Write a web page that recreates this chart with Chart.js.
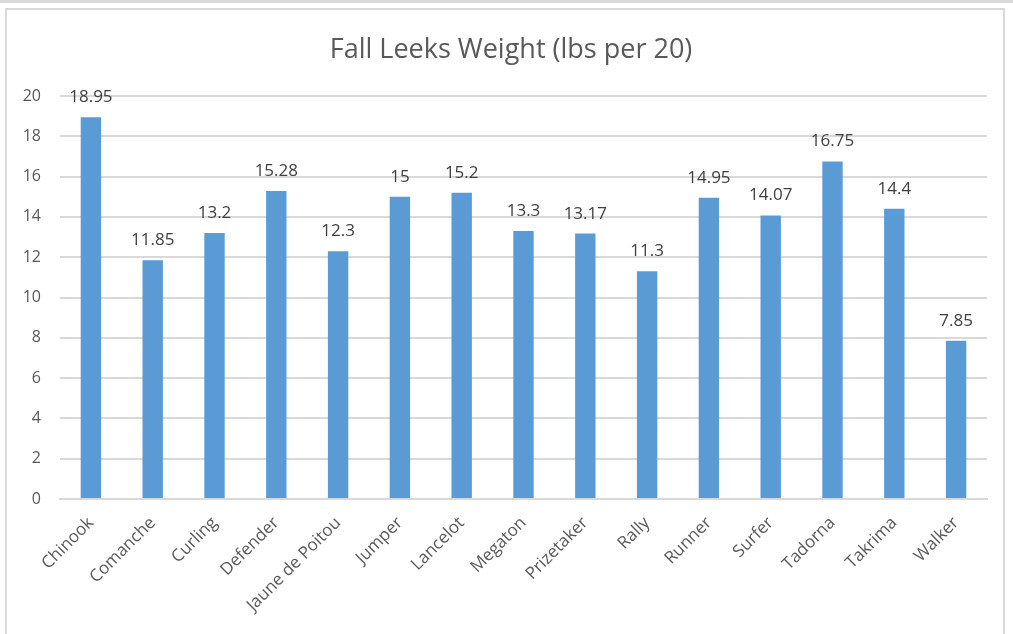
<!DOCTYPE html>
<html>
<head>
<meta charset="utf-8">
<script src="https://cdn.jsdelivr.net/npm/chart.js@4"></script>
<style>
  html, body { margin:0; padding:0; background:#fff; }
  #wrap { position:relative; width:1013px; height:634px; overflow:hidden; background:#fff; }
  #band { position:absolute; left:0; top:0; width:1013px; height:3px; background:#d9d9d9; }
  #frame { position:absolute; left:5px; top:8px; width:1000px; height:700px; border:2px solid #d9d9d9; box-sizing:border-box; }
  #c { position:absolute; left:0; top:0; }
</style>
</head>
<body>
<div id="wrap">
  <div id="band"></div>
  <div id="frame"></div>
  <canvas id="c" width="1013" height="634"></canvas>
</div>
<script>
const categories = ["Chinook","Comanche","Curling","Defender","Jaune de Poitou","Jumper","Lancelot","Megaton","Prizetaker","Rally","Runner","Surfer","Tadorna","Takrima","Walker"];
const weights = [18.95, 11.85, 13.2, 15.28, 12.3, 15, 15.2, 13.3, 13.17, 11.3, 14.95, 14.07, 16.75, 14.4, 7.85];
const titleText = "Fall Leeks Weight (lbs per 20)";
const yMin = 0, yMax = 20, yStep = 2;

const FONT = "'Open Sans', 'Liberation Sans', sans-serif";

const dataLabels = {
  id: 'dataLabels',
  afterDatasetsDraw(chart) {
    const ctx = chart.ctx;
    ctx.save();
    ctx.font = "17px " + FONT;
    ctx.fillStyle = "#404040";
    ctx.textAlign = "center";
    ctx.textBaseline = "alphabetic";
    const meta = chart.getDatasetMeta(0);
    meta.data.forEach((bar, i) => {
      ctx.fillText(String(chart.data.datasets[0].data[i]), bar.x, bar.y - 15);
    });
    ctx.restore();
  }
};

const titlePlugin = {
  id: 'titleText',
  afterDraw(chart) {
    const ctx = chart.ctx;
    ctx.save();
    ctx.font = "27px " + FONT;
    ctx.fillStyle = "#595959";
    ctx.textAlign = "center";
    ctx.textBaseline = "middle";
    ctx.fillText(titleText, 511, 50);
    ctx.restore();
  }
};

new Chart(document.getElementById('c'), {
  type: 'bar',
  data: {
    labels: categories,
    datasets: [{
      data: weights,
      backgroundColor: '#5B9BD5',
      borderWidth: 0,
      barPercentage: 0.33,
      categoryPercentage: 1.0
    }]
  },
  options: {
    responsive: false,
    animation: false,
    devicePixelRatio: 1,
    layout: { padding: { top: 96, left: 0, right: 26, bottom: 0 } },
    plugins: { legend: { display: false }, tooltip: { enabled: false }, title: { display: false } },
    scales: {
      x: {
        grid: { display: false, drawTicks: false },
        border: { display: true, color: '#d9d9d9', width: 2 },
        ticks: {
          color: '#595959',
          font: { family: FONT, size: 17 },
          maxRotation: 45, minRotation: 45,
          autoSkip: false,
          padding: 14
        },
        afterFit(scale) { scale.height = 135; }
      },
      y: {
        min: yMin, max: yMax,
        grid: { color: '#d9d9d9', lineWidth: 2, drawTicks: false },
        border: { display: false },
        ticks: {
          stepSize: yStep,
          color: '#595959',
          font: { family: FONT, size: 16 },
          padding: 19
        },
        afterFit(scale) { scale.width = 60; }
      }
    }
  },
  plugins: [dataLabels, titlePlugin]
});
</script>
</body>
</html>
